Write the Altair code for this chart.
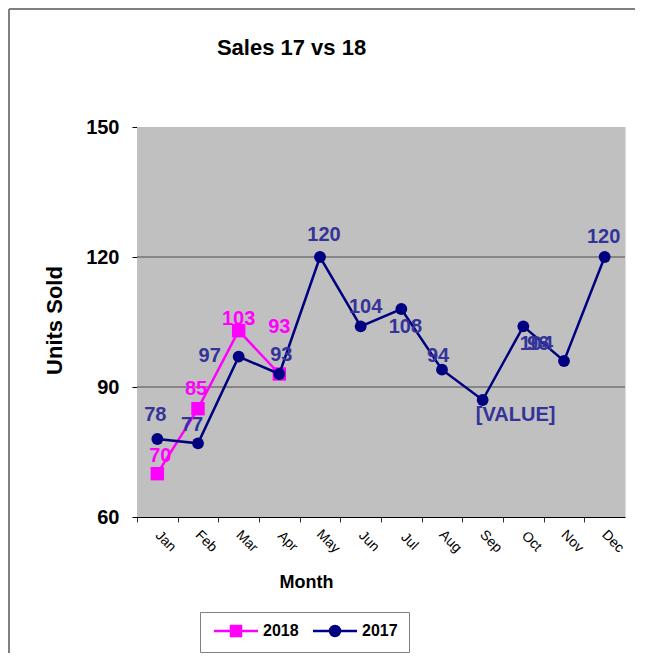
import altair as alt
import pandas as pd

months = ["Jan", "Feb", "Mar", "Apr", "May", "Jun", "Jul", "Aug", "Sep", "Oct", "Nov", "Dec"]
sales_2017 = [78, 77, 97, 93, 120, 104, 108, 94, 87, 104, 96, 120]
sales_2018 = [70, 85, 103, 93]
text_2017 = ["78", "77", "97", "93", "120", "104", "108", "94", "[VALUE]", "104", "96", "120"]
text_2018 = ["70", "85", "103", "93"]
# label offsets in pixels (style)
dx_2017 = [-2, -6, -29, 2, 4, 5, 4, -4, 33, 13, -26, -1]
dy_2017 = [-24, -18, -1, -19, -22, -19, 18, -14, 15, 18, -17, -20]
dx_2018 = [3, -2, 0, 0]
dy_2018 = [-18, -20, -12, -47]
years = ["2018", "2017"]
line_colors = ["#FF00FF", "#000080"]
grid_values = [90, 120]

rows = []
for m, v, t, dx, dy in zip(months[:4], sales_2018, text_2018, dx_2018, dy_2018):
    rows.append({"month": m, "year": "2018", "value": v, "label": t, "ldx": dx, "ldy": dy})
for m, v, t, dx, dy in zip(months, sales_2017, text_2017, dx_2017, dy_2017):
    rows.append({"month": m, "year": "2017", "value": v, "label": t, "ldx": dx, "ldy": dy})
df = pd.DataFrame(rows)

FONT = "Liberation Sans, Arial, Helvetica, sans-serif"
W, H = 488, 390
PAD_R = 10

x_enc = alt.X(
    "month:N",
    sort=months,
    scale=alt.Scale(domain=months, padding=0.5),
    axis=alt.Axis(
        title="Month", titleFont=FONT, titleFontSize=18, titleFontWeight="bold",
        titleColor="black", titleX=169, titleY=70, titleAlign="center",
        titleBaseline="alphabetic",
        labelAngle=45, labelAlign="center", labelBaseline="middle",
        labelFont=FONT, labelFontSize=14, labelColor="black", labelPadding=19,
        tickOffset=-20.33, labelOffset=28, tickSize=5, tickColor="#333333",
        domainColor="black", labelOverlap=False, labelFlush=False, grid=False,
    ),
)
y_enc = alt.Y(
    "value:Q",
    scale=alt.Scale(domain=[60, 150], nice=False, zero=False),
    axis=alt.Axis(
        values=[60, 90, 120, 150], title="Units Sold", titleFont=FONT,
        titleFontSize=22, titleFontWeight="bold", titleColor="black",
        titleAngle=-90, titleX=-83, titleY=193, titleAlign="center",
        titleBaseline="middle",
        labelFont=FONT, labelFontSize=20, labelFontWeight="bold", labelColor="black",
        labelPadding=13, tickSize=5, tickColor="black", domainColor="black", grid=False,
    ),
)

p18 = "M-1,0H7.8M2.4,-1H4.4V1H2.4Z"
p17 = "M-1,0H7.8M4.4,0A1,1,0,1,1,2.4,0A1,1,0,1,1,4.4,0Z"

legend = alt.Legend(
    title=None, orient="none", legendX=63, legendY=485, direction="horizontal",
    padding=11, strokeColor="#808080", fillColor="white",
    labelFont=FONT, labelFontSize=16, labelFontWeight="bold", labelColor="black",
    symbolSize=100, symbolStrokeWidth=2.5, labelOffset=36, columnPadding=9,
    symbolOpacity=1,
)

base = alt.Chart(df).encode(x=x_enc, y=y_enc)

# plot-area background and outer frame (decoration)
plot_bg = alt.Chart(pd.DataFrame({"f": [0]})).mark_rect(color="#C0C0C0").encode(
    x=alt.value(0), x2=alt.value(W), y=alt.value(0), y2=alt.value(H))
frame_left = alt.Chart(pd.DataFrame({"f": [0]})).mark_rule(
    color="#808080", strokeWidth=2
).encode(x=alt.value(-128), y=alt.value(-118), y2=alt.value(H + 136))
frame_top = alt.Chart(pd.DataFrame({"f": [0]})).mark_rule(
    color="#808080", strokeWidth=2
).encode(x=alt.value(-128), x2=alt.value(W + PAD_R), y=alt.value(-118))

grid = alt.Chart(pd.DataFrame({"g": grid_values})).mark_rule(
    color="#4d4d4d", strokeWidth=1
).encode(y=alt.Y("g:Q", scale=alt.Scale(domain=[60, 150], nice=False, zero=False)))

f18 = "datum.year === '2018'"
f17 = "datum.year === '2017'"

line18 = base.transform_filter(f18).mark_line(color="#FF00FF", strokeWidth=2.5)
line17 = base.transform_filter(f17).mark_line(color="#000080", strokeWidth=2.5)
pts18 = base.transform_filter(f18).mark_point(
    shape="square", size=180, filled=True, opacity=1, color="#FF00FF")
pts17 = base.transform_filter(f17).mark_point(
    shape="circle", size=140, filled=True, opacity=1, color="#000080")

# legend-only layer (no marks drawn)
leg = base.transform_filter("false").mark_point(
    filled=True, opacity=1, strokeWidth=2.5
).encode(
    color=alt.Color("year:N", scale=alt.Scale(domain=years, range=line_colors), legend=legend),
    stroke=alt.Stroke("year:N", scale=alt.Scale(domain=years, range=line_colors), legend=legend),
    shape=alt.Shape("year:N", scale=alt.Scale(domain=years, range=[p18, p17]), legend=legend),
)

txt18 = base.transform_filter(f18).mark_text(
    font=FONT, fontSize=20, fontWeight="bold", color="#FF00FF",
    align="center", baseline="middle",
    dx=alt.ExprRef("datum.ldx"), dy=alt.ExprRef("datum.ldy"),
).encode(text="label:N")
txt17 = base.transform_filter(f17).mark_text(
    font=FONT, fontSize=20, fontWeight="bold", color="#333399",
    align="center", baseline="middle",
    dx=alt.ExprRef("datum.ldx"), dy=alt.ExprRef("datum.ldy"),
).encode(text="label:N")

chart = alt.layer(
    frame_left, frame_top, plot_bg, grid, line18, pts18, line17, pts17, leg, txt18, txt17
).properties(
    width=W, height=H,
    autosize=alt.AutoSizeParams(type="none"),
    padding={"left": 129, "top": 119, "right": PAD_R, "bottom": 136},
    title=alt.TitleParams(
        "Sales 17 vs 18", font=FONT, fontSize=22, fontWeight="bold", color="black",
        anchor="middle", frame="group", dx=-89.5, offset=-69, baseline="alphabetic",
    ),
).configure_view(
    stroke="transparent"
).configure(background="white")

chart.save("out.html", embed_options={"renderer": "svg", "actions": False})
